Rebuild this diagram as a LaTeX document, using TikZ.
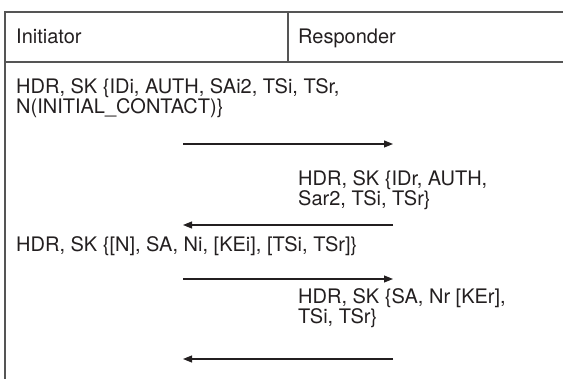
\documentclass[tikz,border=0pt]{standalone}
\usepackage{fontspec}
\setmainfont{TeX Gyre Heros}
\usetikzlibrary{arrows.meta}
\definecolor{inkgray}{HTML}{231F20}
\definecolor{rulegray}{HTML}{555555}
\begin{document}
\begin{tikzpicture}[x=1pt,y=-1pt,
    rule/.style={line width=1.3pt,draw=rulegray},
    msg/.style={anchor=base west,align=left,inner sep=0pt,text=inkgray,
      font=\fontsize{20}{20.5}\selectfont},
    flow/.style={line width=1.1pt,draw=inkgray,-{Triangle[length=9pt,width=7pt]}}]
    \useasboundingbox (0,0) rectangle (563,379);
    % frame of the table
    \draw[rule] (563,12) -- (5,12) -- (5,379);
    \draw[rule] (5,62) -- (563,62);
    \draw[rule] (288,12) -- (288,62);
    \node[msg] (init) at (16,44) {Initiator};
    \node[msg] (resp) at (298,44) {Responder};
    % exchanged messages (base = last line)
    \node[msg] (req1) at (16,114) {HDR, SK \{IDi, AUTH, SAi2, TSi, TSr,\\N(INITIAL\_CONTACT)\}};
    \node[msg] (rsp1) at (298,206) {HDR, SK \{IDr, AUTH,\\Sar2, TSi, TSr\}};
    \node[msg] (req2) at (16,252) {HDR, SK \{[N], SA, Ni, [KEi], [TSi, TSr]\}};
    \node[msg] (rsp2) at (298,324) {HDR, SK \{SA, Nr [KEr],\\TSi, TSr\}};
    % arrow ends
    \coordinate (a1l) at (183,144); \coordinate (a1r) at (393,144);
    \coordinate (a2l) at (183,225); \coordinate (a2r) at (393,225);
    \coordinate (a3l) at (183,279); \coordinate (a3r) at (393,279);
    \coordinate (a4l) at (183,359); \coordinate (a4r) at (393,359);
    \draw[flow] (a1l) -- (a1r);
    \draw[flow] (a2r) -- (a2l);
    \draw[flow] (a3l) -- (a3r);
    \draw[flow] (a4r) -- (a4l);
\end{tikzpicture}
\end{document}
